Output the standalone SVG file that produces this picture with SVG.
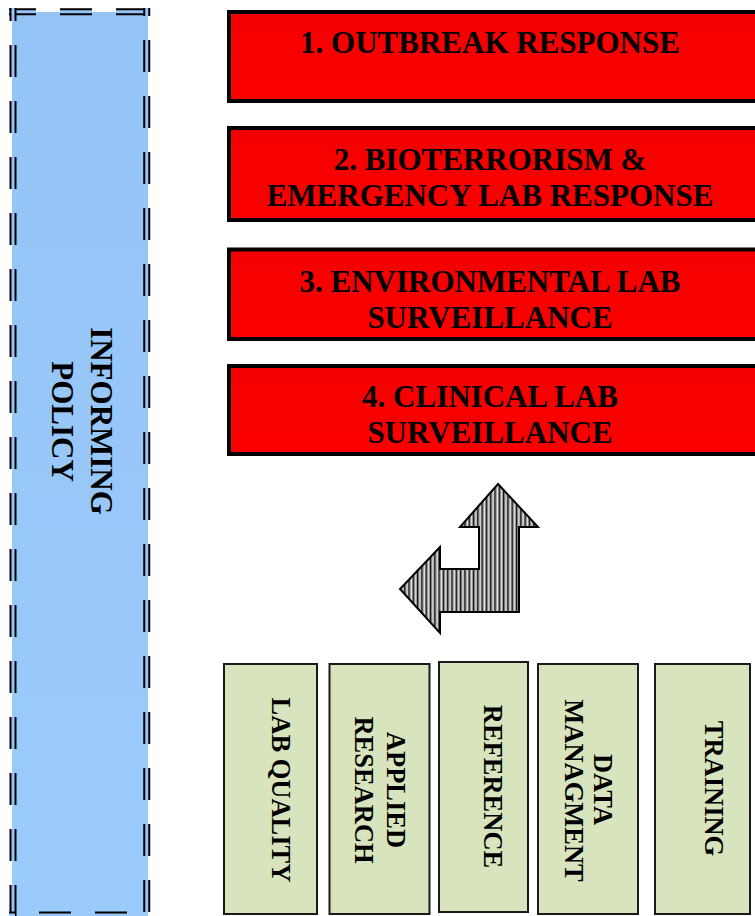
<svg xmlns="http://www.w3.org/2000/svg" width="755" height="916" viewBox="0 0 755 916">
<defs>
<linearGradient id="blueg" x1="0" y1="0" x2="0" y2="1">
<stop offset="0" stop-color="#94c3f5"/>
<stop offset="1" stop-color="#9bcbfb"/>
</linearGradient>
<linearGradient id="redg" x1="0" y1="0" x2="0" y2="1">
<stop offset="0" stop-color="#f40000"/>
<stop offset="1" stop-color="#fb0000"/>
</linearGradient>
<pattern id="stripes" patternUnits="userSpaceOnUse" width="4.3" height="10">
<rect x="0" y="0" width="4.3" height="10" fill="#e6e6e6"/>
<rect x="0" y="0" width="1.4" height="10" fill="#111"/>
<rect x="1.4" y="0" width="0.8" height="10" fill="#888"/>
<rect x="3.5" y="0" width="0.8" height="10" fill="#888"/>
</pattern>
<style>
.red{fill:url(#redg);stroke:#000;stroke-width:4}
.green{fill:#d7e4bd;stroke:#1a1a1a;stroke-width:2}
.t{font-family:"Liberation Serif","Times New Roman",serif;font-weight:bold;fill:#000}
.tr{font-size:31px;text-anchor:middle}
.tg{font-size:26.5px;text-anchor:middle}
.dash{fill:none;stroke:#000;stroke-width:7;stroke-dasharray:32 24}
.dashin{fill:none;stroke:#96c6f8;stroke-width:3;stroke-dasharray:32 24}
</style>
</defs>
<rect width="755" height="916" fill="#fff"/>

<g id="informing-policy">
<rect x="12" y="12" width="136" height="904" fill="url(#blueg)"/>
<path class="dash" d="M9 11.8H150.5" stroke-dashoffset="5"/>
<path class="dashin" d="M9 11.8H150.5" stroke-dashoffset="5"/>
<path class="dash" d="M13 8V916" stroke-dashoffset="19"/>
<path class="dashin" d="M13 8V916" stroke-dashoffset="19"/>
<path class="dash" d="M146.75 8V916" stroke-dashoffset="24"/>
<path class="dashin" d="M146.75 8V916" stroke-dashoffset="24"/>
<path class="dash" d="M9 915H150.5" stroke-dashoffset="26"/>
<path class="dashin" d="M9 915H150.5" stroke-dashoffset="26"/>
<text class="t tr" transform="translate(91,421) rotate(90)">INFORMING</text>
<text class="t tr" transform="translate(52,421.5) rotate(90)">POLICY</text>
</g>

<g id="outbreak-response">
<rect class="red" x="229" y="12" width="600" height="89"/>
<text class="t tr" x="490" y="53">1. OUTBREAK RESPONSE</text>
</g>
<g id="bioterrorism">
<rect class="red" x="229" y="128" width="600" height="92"/>
<text class="t tr" x="490" y="170">2. BIOTERRORISM &amp;</text>
<text class="t tr" x="490" y="206">EMERGENCY LAB RESPONSE</text>
</g>
<g id="environmental">
<rect class="red" x="229" y="249.5" width="600" height="89.5"/>
<text class="t tr" x="490" y="292">3. ENVIRONMENTAL LAB</text>
<text class="t tr" x="490" y="328">SURVEILLANCE</text>
</g>
<g id="clinical">
<rect class="red" x="229" y="366" width="600" height="88"/>
<text class="t tr" x="490" y="407">4. CLINICAL LAB</text>
<text class="t tr" x="490" y="443">SURVEILLANCE</text>
</g>

<g id="connectors">
<polygon points="498,484 538,527 519,527 519,612 440,612 440,633 400,589 440,547 440,569 479,569 479,527 460,527" fill="url(#stripes)" stroke="#000" stroke-width="2" stroke-linejoin="miter"/>
</g>

<g id="lab-quality">
<rect class="green" x="224" y="664" width="93" height="250"/>
<text class="t tg" transform="translate(272,790) rotate(90)">LAB QUALITY</text>
</g>
<g id="applied-research">
<rect class="green" x="329.5" y="664" width="100" height="250"/>
<text class="t tg" transform="translate(387,790) rotate(90)">APPLIED</text>
<text class="t tg" transform="translate(355,790) rotate(90)">RESEARCH</text>
</g>
<g id="reference">
<rect class="green" x="439" y="662" width="89" height="250"/>
<text class="t tg" transform="translate(484,786.5) rotate(90)">REFERENCE</text>
</g>
<g id="data-managment">
<rect class="green" x="538" y="664" width="100" height="250"/>
<text class="t tg" transform="translate(594,789.5) rotate(90)">DATA</text>
<text class="t tg" transform="translate(565,790.5) rotate(90)">MANAGMENT</text>
</g>
<g id="training">
<rect class="green" x="655" y="664" width="95" height="250"/>
<text class="t tg" transform="translate(705,788.5) rotate(90)">TRAINING</text>
</g>
</svg>
